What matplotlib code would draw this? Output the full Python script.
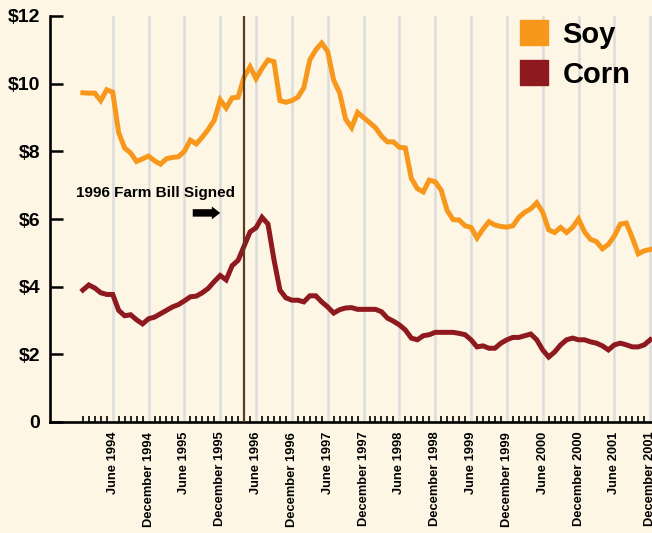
import numpy as np
from matplotlib import pyplot as plt
from matplotlib.patches import Patch


# monthly prices, January 1994 .. December 2001 (dollars per bushel)
SOY = [
    9.73, 9.72, 9.72, 9.50, 9.82, 9.75, 8.55, 8.10, 7.95, 7.70, 7.78, 7.86,
    7.72, 7.62, 7.78, 7.82, 7.84, 8.00, 8.33, 8.22, 8.42, 8.65, 8.92, 9.52,
    9.28, 9.58, 9.60, 10.20, 10.50, 10.15, 10.45, 10.70, 10.65, 9.50, 9.45, 9.50,
    9.60, 9.88, 10.70, 11.00, 11.20, 10.95, 10.10, 9.73, 8.95, 8.70, 9.15, 9.00,
    8.85, 8.70, 8.45, 8.28, 8.28, 8.12, 8.10, 7.20, 6.90, 6.80, 7.15, 7.10,
    6.85, 6.25, 5.98, 5.97, 5.80, 5.75, 5.44, 5.70, 5.92, 5.82, 5.78, 5.76,
    5.80, 6.05, 6.20, 6.30, 6.48, 6.20, 5.68, 5.60, 5.75, 5.60, 5.75, 6.00,
    5.62, 5.40, 5.33, 5.12, 5.25, 5.50, 5.85, 5.88, 5.45, 4.97, 5.06, 5.10,
]
CORN = [
    3.90, 4.05, 3.96, 3.82, 3.77, 3.77, 3.30, 3.14, 3.17, 3.02, 2.90, 3.05,
    3.10, 3.20, 3.30, 3.40, 3.47, 3.58, 3.70, 3.72, 3.82, 3.95, 4.15, 4.33,
    4.20, 4.62, 4.78, 5.20, 5.62, 5.74, 6.05, 5.85, 4.80, 3.90, 3.67, 3.60,
    3.60, 3.55, 3.73, 3.73, 3.55, 3.40, 3.22, 3.32, 3.37, 3.38, 3.33, 3.33,
    3.33, 3.33, 3.26, 3.07, 2.98, 2.87, 2.72, 2.48, 2.43, 2.55, 2.58, 2.65,
    2.65, 2.65, 2.65, 2.62, 2.58, 2.43, 2.22, 2.25, 2.18, 2.18, 2.33, 2.43,
    2.50, 2.50, 2.55, 2.60, 2.43, 2.13, 1.92, 2.07, 2.28, 2.43, 2.48, 2.43,
    2.43, 2.37, 2.33, 2.25, 2.13, 2.28, 2.33, 2.28, 2.22, 2.22, 2.28, 2.43,
]
TICK_LABELS = [
    'June 1994', 'December 1994', 'June 1995', 'December 1995',
    'June 1996', 'December 1996', 'June 1997', 'December 1997',
    'June 1998', 'December 1998', 'June 1999', 'December 1999',
    'June 2000', 'December 2000', 'June 2001', 'December 2001',
]
Y_TICKS = [0, 2, 4, 6, 8, 10, 12]
Y_LABELS = ['0', '$2', '$4', '$6', '$8', '$10', '$12']
FARM_BILL_MONTH = 27  # April 1996

BG = '#FDF6E5'
SOY_COLOR = '#F7981D'
CORN_COLOR = '#8E1A1F'

plt.rcParams['font.family'] = ['Liberation Sans', 'DejaVu Sans']
plt.rcParams['font.weight'] = 'bold'

months = np.arange(len(SOY))
major = months[5::6]
minor = [m for m in months if m not in major]

fig = plt.figure(figsize=(6.52, 5.33), dpi=100, facecolor=BG)
ax = fig.add_axes([50 / 652, 111 / 533, 602 / 652, 406 / 533])
ax.set_facecolor(BG)

for m in major:
    ax.axvline(m, color='#DCDCDC', lw=1.8, zorder=1)

ax.plot(months, SOY, color=SOY_COLOR, lw=3.6, solid_joinstyle='miter', zorder=3)
ax.plot(months, CORN, color=CORN_COLOR, lw=3.6, solid_joinstyle='miter', zorder=3)
ax.axvline(FARM_BILL_MONTH, color='#5B3A1F', lw=1.6, zorder=4)

ax.text(12.2, 6.78, '1996 Farm Bill Signed', fontsize=11, ha='center', va='center')
ax.arrow(18.4, 6.18, 4.6, 0, width=0.22, head_width=0.38, head_length=1.4,
         length_includes_head=True, color='black', lw=0)

ax.set_xlim(-5.5, 95.3)
ax.set_ylim(0, 12)
ax.set_xticks(major)
ax.set_xticklabels(TICK_LABELS, rotation=90, fontsize=9.3)
ax.set_xticks(minor, minor=True)
ax.tick_params(axis='x', which='major', length=0, pad=7)
ax.tick_params(axis='x', which='minor', direction='in', length=4.5, width=1.2)
ax.set_yticks(Y_TICKS)
ax.set_yticklabels(Y_LABELS, fontsize=14)
ax.tick_params(axis='y', direction='in', length=9, width=1.8, pad=7)

for side in ['top', 'right']:
    ax.spines[side].set_visible(False)
for side in ['left', 'bottom']:
    ax.spines[side].set_linewidth(1.9)

handles = [Patch(color=SOY_COLOR, label='Soy'), Patch(color=CORN_COLOR, label='Corn')]
ax.legend(handles=handles, loc='upper left', bbox_to_anchor=(0.781, 0.99),
          frameon=False, fontsize=21, handlelength=0.95, handleheight=0.95,
          handletextpad=0.5, labelspacing=0.4, borderpad=0, borderaxespad=0)

fig.savefig('out.png', dpi=100, facecolor=BG)
